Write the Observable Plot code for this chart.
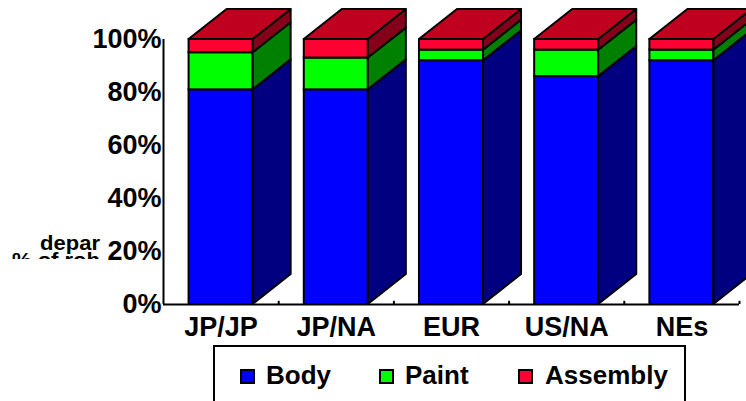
<!DOCTYPE html>
<html>
<head>
<meta charset="utf-8">
<script src="https://cdn.jsdelivr.net/npm/d3@7"></script>
<script src="https://cdn.jsdelivr.net/npm/@observablehq/plot@0.6"></script>
<style>
  html, body { margin: 0; padding: 0; background: white; overflow: hidden; }
  #wrap { position: relative; width: 746px; height: 401px; overflow: hidden; background: white;
          font-family: "Liberation Sans", Arial, sans-serif; font-weight: bold; }
  #chart svg { display: block; overflow: hidden; }
  #chart svg text { font: bold 27px "Liberation Sans", Arial, sans-serif; fill: black; }
  .ylab { position: absolute; left: 0; width: 100px; text-align: right; font-size: 20px; line-height: 20px;
          white-space: nowrap; transform: scaleX(1.1); transform-origin: right center; }
  .legend-box { position: absolute; left: 213px; top: 345px; width: 473px; height: 90px;
                border: 2px solid black; box-sizing: border-box; }
  .swatch { position: absolute; width: 15px; height: 15px; border: 2px solid black; box-sizing: border-box; }
  .legend-text { position: absolute; font-size: 26px; line-height: 26px; white-space: nowrap; }
</style>
</head>
<body>
<div id="wrap">
  <div id="chart"></div>
</div>
<script>
// Share of robots by department, per producer group (stacked to 100%)
const categories = ["JP/JP", "JP/NA", "EUR", "US/NA", "NEs"];
const series = ["Body", "Paint", "Assembly"];
const body = [81, 81, 92, 86, 92];
const paint = [14, 12, 4, 10, 4];
const assembly = [5, 7, 4, 4, 4];
const yTicks = [0, 20, 40, 60, 80, 100];

// Face colours: front faces, darker side faces, and the lid
const frontColors = ["#0000ff", "#00ff00", "#ff0033"];
const sideColors = ["#000080", "#008000", "#850019"];
const topColor = "#c0001f";

// Box geometry in scale units: half bar width, depth offset in x and y
const hw = 0.278;
const dx = 0.33;
const dy = 11.3;

const values = [body, paint, assembly];

// Stacked segments
const segments = categories.flatMap((c, i) => {
  let base = 0;
  return series.map((s, k) => {
    const v = values[k][i];
    const seg = {i, cat: c, series: s, k, y1: base, y2: base + v};
    base += v;
    return seg;
  });
});

// Side faces: each segment becomes a parallelogram receding up-right
const sidePoints = segments.flatMap(d => [
  {id: d.i * 3 + d.k, k: d.k, x: d.i + hw, y1: d.y1, y2: d.y2},
  {id: d.i * 3 + d.k, k: d.k, x: d.i + hw + dx, y1: d.y1 + dy, y2: d.y2 + dy}
]);

// Lids on top of every stack
const topPoints = categories.flatMap((c, i) => {
  const total = body[i] + paint[i] + assembly[i];
  return [
    {i, y: total, x1: i - hw, x2: i + hw},
    {i, y: total + dy, x1: i - hw + dx, x2: i + hw + dx}
  ];
});

const boundaries = categories.map((c, i) => i + 0.5);

const chart = Plot.plot({
  width: 746,
  height: 345,
  marginTop: 39,
  marginBottom: 41,
  marginLeft: 163,
  marginRight: 7,
  style: {background: "white", overflow: "hidden"},
  x: {
    domain: [-0.5, categories.length - 0.5],
    ticks: categories.map((c, i) => i),
    tickFormat: i => categories[i],
    tickSize: 0,
    tickPadding: 12,
    label: null
  },
  y: {
    domain: [0, 100],
    ticks: yTicks,
    tickFormat: d => d + "%",
    tickSize: 0,
    tickPadding: 2,
    label: null
  },
  color: {domain: series, range: frontColors},
  marks: [
    Plot.rect(segments, {
      x1: d => d.i - hw, x2: d => d.i + hw, y1: "y1", y2: "y2",
      fill: "series", stroke: "black", strokeWidth: 2
    }),
    ...series.map((s, k) => Plot.areaY(sidePoints.filter(d => d.k === k), {
      x: "x", y1: "y1", y2: "y2", z: "id",
      fill: sideColors[k], stroke: "black", strokeWidth: 2
    })),
    Plot.areaX(topPoints, {
      y: "y", x1: "x1", x2: "x2", z: "i",
      fill: topColor, stroke: "black", strokeWidth: 2
    }),
    // wall and floor
    Plot.ruleX([-0.5], {y1: 0, y2: 100, stroke: "black", strokeWidth: 2}),
    Plot.ruleY([0], {x1: -0.5, x2: categories.length - 0.5, stroke: "black", strokeWidth: 2}),
    Plot.ruleX(boundaries, {y1: 0, y2: 1.2, stroke: "black", strokeWidth: 2})
  ]
});

const wrap = document.getElementById("wrap");
document.getElementById("chart").append(chart);

// Clipped axis title fragments
const yl = document.createElement("div");
yl.style.cssText = "position:absolute;left:0;top:228px;width:110px;height:31px;overflow:hidden;";
const l1 = document.createElement("div");
l1.className = "ylab"; l1.style.top = "5px"; l1.textContent = "depar";
const l2 = document.createElement("div");
l2.className = "ylab"; l2.style.top = "22px"; l2.textContent = "% of rob";
yl.append(l1, l2);
wrap.append(yl);

// Legend
const box = document.createElement("div");
box.className = "legend-box";
wrap.append(box);
const swatchX = [240, 379, 518];
const textX = [266, 405, 545];
series.forEach((s, k) => {
  const sw = document.createElement("div");
  sw.className = "swatch";
  sw.style.left = swatchX[k] + "px";
  sw.style.top = "369px";
  sw.style.background = frontColors[k];
  const t = document.createElement("div");
  t.className = "legend-text";
  t.style.left = textX[k] + "px";
  t.style.top = "362px";
  t.textContent = s;
  wrap.append(sw, t);
});
</script>
</body>
</html>
